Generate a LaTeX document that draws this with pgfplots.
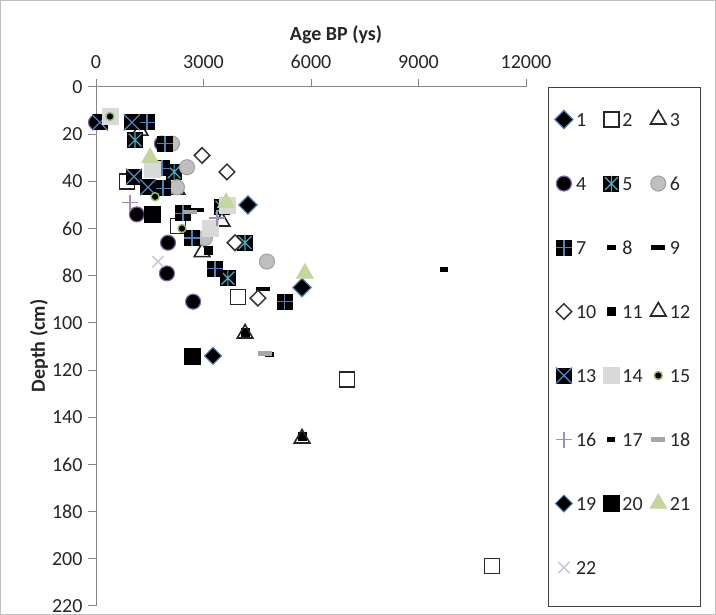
\documentclass[border=0pt]{standalone}
\usepackage{fontspec}
\setmainfont{Carlito}
\usepackage{pgfplots}
\pgfplotsset{compat=1.18}

\definecolor{cblue}{HTML}{4F81BD}
\definecolor{ccyan}{HTML}{4BACC6}
\definecolor{cpurple}{HTML}{8064A2}
\definecolor{cgreen}{HTML}{9BBB59}
\definecolor{cgray}{HTML}{BFBFBF}
\definecolor{cgrayedge}{HTML}{A6A6A6}
\definecolor{clight}{HTML}{D9D9D9}
\definecolor{clgreen}{HTML}{C3D69B}
\definecolor{clav}{HTML}{CCC1DA}
\definecolor{cplus}{HTML}{A08CC2}
\definecolor{axisgray}{HTML}{868686}
\definecolor{txt}{HTML}{262626}

\newcommand\lgd[1]{\raisebox{-6bp}{#1}}

\pgfdeclareplotmark{sqplus}{%
  \pgfpathrectangle{\pgfpoint{-\pgfplotmarksize}{-\pgfplotmarksize}}{\pgfpoint{2\pgfplotmarksize}{2\pgfplotmarksize}}%
  \pgfsetfillcolor{black}\pgfusepath{fill}%
  \pgfsetstrokecolor{cblue}\pgfsetlinewidth{1.3bp}%
  \pgfpathmoveto{\pgfpoint{0pt}{-\pgfplotmarksize}}\pgfpathlineto{\pgfpoint{0pt}{\pgfplotmarksize}}%
  \pgfpathmoveto{\pgfpoint{-\pgfplotmarksize}{0pt}}\pgfpathlineto{\pgfpoint{\pgfplotmarksize}{0pt}}%
  \pgfusepath{stroke}%
}
\pgfdeclareplotmark{sqx}{%
  \pgfpathrectangle{\pgfpoint{-\pgfplotmarksize}{-\pgfplotmarksize}}{\pgfpoint{2\pgfplotmarksize}{2\pgfplotmarksize}}%
  \pgfsetfillcolor{black}\pgfusepath{fill}%
  \pgfsetstrokecolor{cblue}\pgfsetlinewidth{1.3bp}%
  \pgfpathmoveto{\pgfpoint{-\pgfplotmarksize}{-\pgfplotmarksize}}\pgfpathlineto{\pgfpoint{\pgfplotmarksize}{\pgfplotmarksize}}%
  \pgfpathmoveto{\pgfpoint{-\pgfplotmarksize}{\pgfplotmarksize}}\pgfpathlineto{\pgfpoint{\pgfplotmarksize}{-\pgfplotmarksize}}%
  \pgfusepath{stroke}%
}
\pgfdeclareplotmark{sqast}{%
  \pgfpathrectangle{\pgfpoint{-\pgfplotmarksize}{-\pgfplotmarksize}}{\pgfpoint{2\pgfplotmarksize}{2\pgfplotmarksize}}%
  \pgfsetfillcolor{black}\pgfusepath{fill}%
  \pgfsetstrokecolor{ccyan}\pgfsetlinewidth{1.2bp}%
  \pgfpathmoveto{\pgfpoint{0pt}{-\pgfplotmarksize}}\pgfpathlineto{\pgfpoint{0pt}{\pgfplotmarksize}}%
  \pgfpathmoveto{\pgfpoint{-0.8\pgfplotmarksize}{-0.8\pgfplotmarksize}}\pgfpathlineto{\pgfpoint{0.8\pgfplotmarksize}{0.8\pgfplotmarksize}}%
  \pgfpathmoveto{\pgfpoint{-0.8\pgfplotmarksize}{0.8\pgfplotmarksize}}\pgfpathlineto{\pgfpoint{0.8\pgfplotmarksize}{-0.8\pgfplotmarksize}}%
  \pgfusepath{stroke}%
}
\pgfdeclareplotmark{hbar}{%
  \pgfpathrectangle{\pgfpoint{-\pgfplotmarksize}{-0.3\pgfplotmarksize}}{\pgfpoint{2\pgfplotmarksize}{0.6\pgfplotmarksize}}%
  \pgfusepathqfill
}
\pgfdeclareplotmark{sbar}{%
  \pgfpathrectangle{\pgfpoint{-\pgfplotmarksize}{-0.6\pgfplotmarksize}}{\pgfpoint{2\pgfplotmarksize}{1.2\pgfplotmarksize}}%
  \pgfusepathqfill
}

\begin{document}
\begin{tikzpicture}
\path[use as bounding box] (0,0) rectangle (716bp,615bp);
\draw[color=black!25, line width=0.8bp] (0.4bp,0.4bp) rectangle (715.6bp,614.6bp);
% axis lines and ticks (plot area: x 96..526 bp, y 9..528 bp)
\begin{scope}[x=1bp, y=1bp, color=axisgray, line width=1bp]
\draw (88,528) -- (526,528);
\draw (96,536) -- (96,9);
\foreach \k in {1,2,3,4}{\draw ({96+107.5*\k},528) -- ++(0,8);}
\foreach \k in {1,...,11}{\draw (96,{528-47.1818*\k}) -- ++(-8,0);}
\end{scope}
\begin{axis}[
  at={(96bp,9bp)}, anchor=south west,
  width=430bp, height=519bp, scale only axis,
  xmin=0, xmax=12000, ymin=0, ymax=220,
  y dir=reverse,
  axis x line*=top, axis y line*=left,
  axis line style={draw=none},
  xtick={0,3000,6000,9000,12000},
  ytick={0,20,...,220},
  scaled x ticks=false, scaled y ticks=false,
  tick align=outside,
  major tick length=8bp,
  tick style={draw=none},
  /pgf/number format/1000 sep={},
  /pgf/number format/assume math mode=true,
  tick label style={font=\fontsize{20bp}{24bp}\selectfont, text=txt},
  xticklabel style={yshift=7bp},
  yticklabel style={xshift=-2bp},
  clip=false,
  only marks,
  legend columns=3,
  legend cell align=left,
  legend style={at={(1.0663,0.9589)}, anchor=north west, draw=none, fill=none,
    inner sep=0pt, row sep=42bp,
    font=\fontsize{20bp}{24bp}\selectfont, text=txt,
    nodes={inner sep=0pt, text height=12bp, text depth=10bp},
    /tikz/every odd column/.append style={column sep=3bp},
    /tikz/every even column/.append style={column sep=7bp}},
]
% 1
\addplot[mark=square*, mark size=6.5bp, mark options={rotate=45, fill=black, draw=cblue, line width=1.2bp}] coordinates {(4240,50) (5750,85)};
% 2
\addplot[mark=square*, mark size=7.5bp, mark options={fill=white, draw=black!85, line width=1.6bp}] coordinates {(870,40) (2290,59) (3960,89) (7000,124) (11050,203)};
% 3
\addplot[mark=triangle, mark size=9bp, mark options={draw=black!85, line width=1.6bp}] coordinates {(1230,18.5) (2260,43.5) (3515,57) (2960,70)};
% 4
\addplot[mark=*, mark size=7.5bp, mark options={fill=black, draw=cpurple, line width=1.2bp}] coordinates {(0,15) (1840,24) (1140,54) (2010,66) (1980,79) (2710,91)};
% 5
\addplot[mark=sqast, mark size=8bp] coordinates {(1090,22.5) (2180,36) (3515,51) (4160,66) (3680,81)};
% 6
\addplot[mark=*, mark size=7.5bp, mark options={fill=cgray, draw=cgrayedge, line width=1.2bp}] coordinates {(2120,24) (2540,34) (2260,42.5) (3040,64) (4770,74)};
% 7
\addplot[mark=sqplus, mark size=8bp] coordinates {(1420,15) (1925,24) (1840,34.5) (1870,43) (2430,53.5) (2680,64) (3320,77) (5270,91)};
% 8
\addplot[mark=sbar, mark size=4.5bp, mark options={fill=black}] coordinates {(1620,34) (4855,113.5)};
% 9
\addplot[mark=hbar, mark size=7bp, mark options={fill=black}] coordinates {(2820,52) (4660,85.5)};
% 10
\addplot[mark=square*, mark size=5.5bp, mark options={rotate=45, fill=white, draw=black!80, line width=1.5bp}] coordinates {(2960,29) (3655,36) (3880,66) (4520,89.5)};
% 11
\addplot[mark=square*, mark size=4bp, mark options={fill=black, draw=black}] coordinates {(3125,69) (4160,104) (5750,148)};
% 12
\addplot[mark=triangle, mark size=9bp, mark options={draw=black!85, line width=1.6bp}] coordinates {(4160,104.5) (5750,149)};
% 13
\addplot[mark=sqx, mark size=8bp] coordinates {(110,15) (1000,15) (1060,38) (1450,42.5)};
% 14
\addplot[mark=square*, mark size=8bp, mark options={fill=clight, draw=clight}] coordinates {(390,12.5) (1560,35) (3650,50) (3180,60)};
% 15
\addplot[mark=*, mark size=4bp, mark options={fill=black, draw=cgreen, line width=1.4bp}] coordinates {(390,12.5) (1650,46.5) (2400,60)};
% 16
\addplot[mark=+, mark size=8bp, mark options={draw=cplus, line width=1.4bp}] coordinates {(950,49) (3375,55.5)};
% 17
\addplot[mark=sbar, mark size=4bp, mark options={fill=black}] coordinates {(9710,77.5)};
% 18
\addplot[mark=hbar, mark size=7bp, mark options={fill=cgrayedge}] coordinates {(2620,53) (4715,113)};
% 19
\addplot[mark=square*, mark size=6bp, mark options={rotate=45, fill=black, draw=cblue, line width=1bp}] coordinates {(3265,114)};
% 20
\addplot[mark=square*, mark size=8bp, mark options={fill=black, draw=black}] coordinates {(1560,54) (2680,114)};
% 21
\addplot[mark=triangle*, mark size=10bp, mark options={fill=clgreen, draw=clgreen}] coordinates {(1510,30) (3630,49) (5830,79)};
% 22
\addplot[mark=x, mark size=8bp, mark options={draw=clav, line width=1.4bp}] coordinates {(1730,74)};
\legend{\lgd{1},\lgd{2},\lgd{3},\lgd{4},\lgd{5},\lgd{6},\lgd{7},\lgd{8},\lgd{9},\lgd{10},\lgd{11},\lgd{12},\lgd{13},\lgd{14},\lgd{15},\lgd{16},\lgd{17},\lgd{18},\lgd{19},\lgd{20},\lgd{21},\lgd{22}}
\end{axis}
\draw[color=black!75, line width=1bp] (548bp,8bp) rectangle (700bp,527bp);
\node[font=\bfseries\fontsize{20bp}{24bp}\selectfont, text=txt] at (336bp,580bp) {Age BP (ys)};
\node[font=\bfseries\fontsize{20bp}{24bp}\selectfont, text=txt, rotate=90] at (39bp,269bp) {Depth (cm)};
\end{tikzpicture}
\end{document}
